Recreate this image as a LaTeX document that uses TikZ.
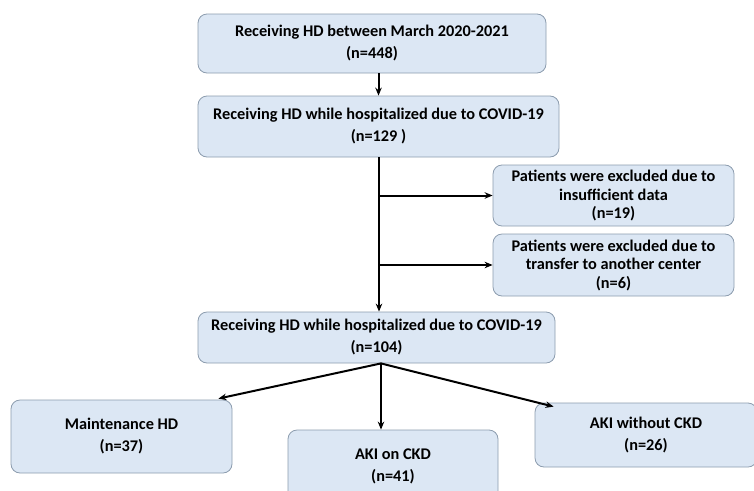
\documentclass[tikz,border=0pt]{standalone}
\usepackage{fontspec}
\setmainfont{Carlito}
\usetikzlibrary{arrows.meta}
\definecolor{boxfill}{RGB}{220,231,244}
\definecolor{boxline}{RGB}{140,156,174}
\begin{document}
\begin{tikzpicture}[x=1pt,y=-1pt,
 box/.style={draw=boxline,fill=boxfill,line width=.8pt,rounded corners=9pt,align=center,inner sep=0pt,font=\fontsize{16.3}{22}\selectfont\bfseries},
 arr/.style={line width=2pt,-{Stealth[length=8pt,width=6.5pt]}}]
\useasboundingbox (0,0) rectangle (754,490);
\node[box,minimum width=348,minimum height=59] (rec) at (372,43.5) {Receiving HD between March 2020-2021\\(n=448)};
\node[box,minimum width=361,minimum height=61] (hosp) at (378.5,126.5) {Receiving HD while hospitalized due to COVID-19\\(n=129 )};
\node[box,minimum width=241,minimum height=61,font=\fontsize{16.3}{18.5}\selectfont\bfseries] (exda) at (613.5,195.5) {Patients were excluded due to\\insufficient data\\(n=19)};
\node[box,minimum width=241,minimum height=62,font=\fontsize{16.3}{18.5}\selectfont\bfseries] (extr) at (613.5,265) {Patients were excluded due to\\transfer to another center\\(n=6)};
\node[box,minimum width=357,minimum height=51] (incl) at (376.5,337.5) {Receiving HD while hospitalized due to COVID-19\\(n=104)};
\node[box,minimum width=221,minimum height=73] (mhd) at (121.5,436.5) {Maintenance HD\\(n=37)};
\node[box,minimum width=210,minimum height=72] (aon) at (393,466) {AKI on CKD\\(n=41)};
\node[box,minimum width=222,minimum height=64] (awo) at (646,435) {AKI without CKD\\(n=26)};
% connectors
\coordinate (top) at ([xshift=6.5pt]rec.south);
\coordinate (mid) at ([xshift=.5pt]hosp.south);
\coordinate (low) at ([xshift=4.5pt]incl.south);
\draw[arr] (top) -- (top |- hosp.north);
\draw[arr] (mid) -- (mid |- incl.north);
\foreach \e in {exda,extr} \draw[arr] (mid |- \e.west) -- (\e.west);
\draw[arr] (low) -- ([xshift=-14pt,yshift=1pt]mhd.north east);
\draw[arr] (low) -- (low |- aon.north);
\draw[arr] (low) -- ([xshift=19pt,yshift=-4pt]awo.north west);
\end{tikzpicture}
\end{document}
